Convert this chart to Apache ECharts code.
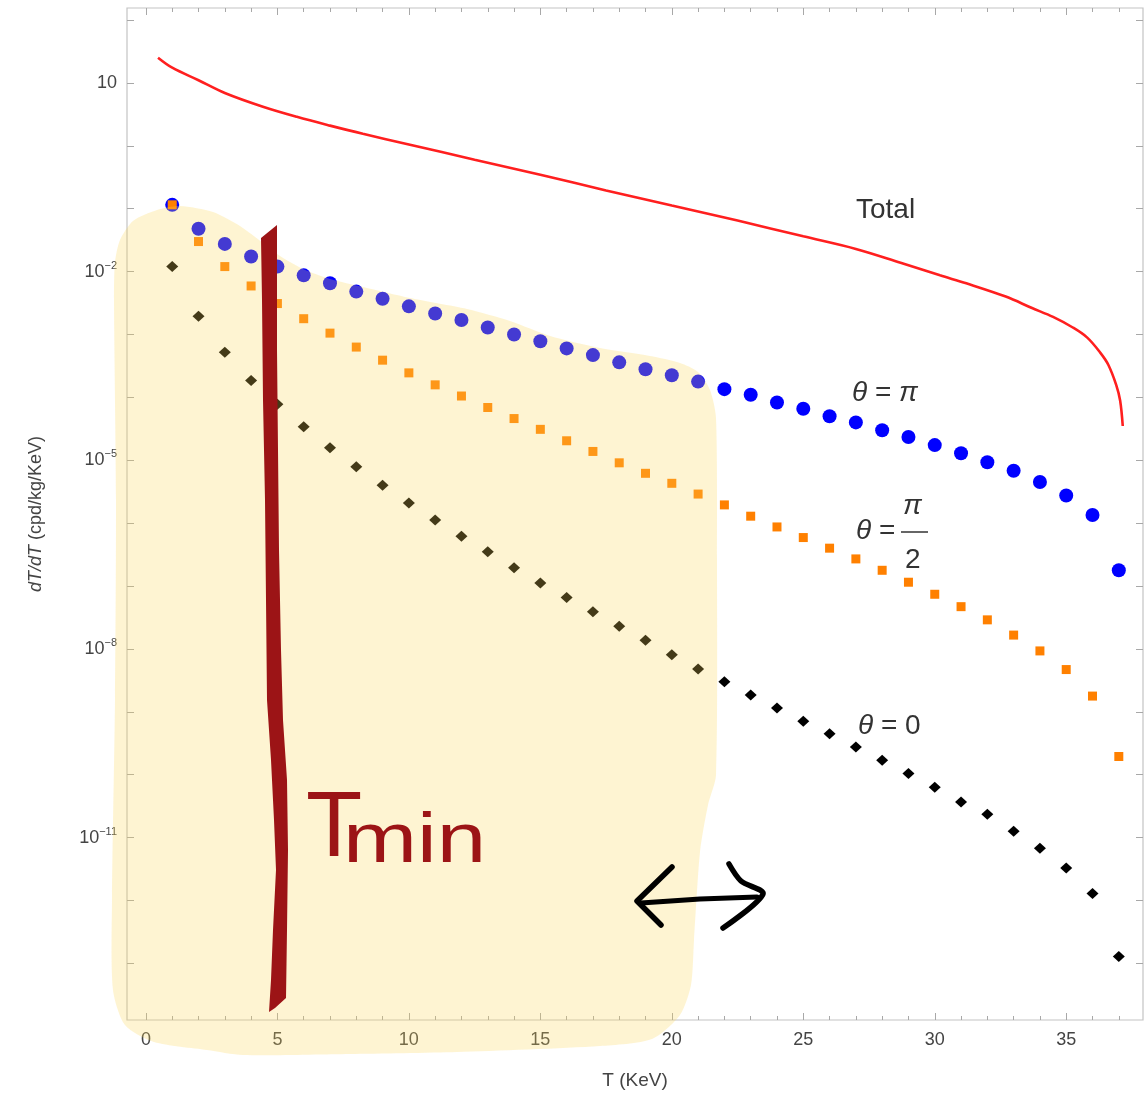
<!DOCTYPE html>
<html>
<head>
<meta charset="utf-8" />
<title>dT/dT vs T</title>
<script src="https://cdn.jsdelivr.net/npm/echarts@6/dist/echarts.min.js"></script>
<style>
  html, body { margin: 0; padding: 0; background: #fff; }
  #main { width: 1148px; height: 1107px; }
</style>
</head>
<body>
<div id="main"></div>
<script>
// recoil energy (KeV) of the point series
var energyKeV = [1, 2, 3, 4, 5, 6, 7, 8, 9, 10, 11, 12, 13, 14, 15, 16, 17, 18, 19, 20,
  21, 22, 23, 24, 25, 26, 27, 28, 29, 30, 31, 32, 33, 34, 35, 36, 37];

// theta = pi (blue circles)
var ratePi = [1.15e-1, 4.8e-2, 2.75e-2, 1.74e-2, 1.2e-2, 8.7e-3, 6.5e-3, 4.8e-3, 3.7e-3, 2.8e-3,
  2.15e-3, 1.7e-3, 1.29e-3, 1.0e-3, 7.8e-4, 6.0e-4, 4.7e-4, 3.6e-4, 2.8e-4, 2.24e-4,
  1.78e-4, 1.35e-4, 1.1e-4, 8.3e-5, 6.6e-5, 5.0e-5, 4.0e-5, 3.0e-5, 2.34e-5, 1.74e-5,
  1.29e-5, 9.3e-6, 6.8e-6, 4.5e-6, 2.75e-6, 1.35e-6, 1.78e-7];

// theta = pi/2 (orange squares)
var ratePiHalf = [1.15e-1, 3.0e-2, 1.2e-2, 5.9e-3, 3.1e-3, 1.78e-3, 1.05e-3, 6.3e-4, 3.9e-4, 2.45e-4,
  1.58e-4, 1.05e-4, 6.9e-5, 4.6e-5, 3.1e-5, 2.04e-5, 1.38e-5, 9.1e-6, 6.2e-6, 4.3e-6,
  2.9e-6, 1.95e-6, 1.29e-6, 8.7e-7, 5.9e-7, 4.0e-7, 2.7e-7, 1.78e-7, 1.15e-7, 7.4e-8,
  4.7e-8, 2.9e-8, 1.66e-8, 9.3e-9, 4.7e-9, 1.78e-9, 1.95e-10];

// theta = 0 (black diamonds)
var rateZero = [1.2e-2, 1.95e-3, 5.2e-4, 1.86e-4, 7.8e-5, 3.4e-5, 1.58e-5, 7.9e-6, 4.0e-6, 2.1e-6,
  1.12e-6, 6.2e-7, 3.5e-7, 1.95e-7, 1.12e-7, 6.6e-8, 3.9e-8, 2.3e-8, 1.38e-8, 8.1e-9,
  4.8e-9, 3.0e-9, 1.86e-9, 1.15e-9, 7.1e-10, 4.5e-10, 2.75e-10, 1.7e-10, 1.05e-10, 6.3e-11,
  3.7e-11, 2.35e-11, 1.26e-11, 6.8e-12, 3.3e-12, 1.29e-12, 1.29e-13];

// total rate (red curve)
var totalT = [0.46, 1, 2, 3, 4.45, 5.74, 7, 8.25, 10, 12.5, 15, 17.5, 20, 22.5, 25, 27, 28.7,
  30.2, 31.2, 32.7, 33.7, 34.5, 35.25, 35.8, 36.3, 36.6, 36.9, 37.05, 37.15];
var totalRate = [25.1, 17.4, 11.0, 6.9, 4.17, 2.88, 2.09, 1.55, 1.05, 0.60, 0.347, 0.195, 0.112,
  0.0646, 0.0363, 0.0229, 0.0138, 8.7e-3, 6.5e-3, 4.0e-3, 2.63e-3, 1.9e-3, 1.29e-3, 8.9e-4,
  5.1e-4, 3.3e-4, 1.58e-4, 8.9e-5, 3.5e-5];

// ticks
var xTickLabels = [0, 5, 10, 15, 20, 25, 30, 35];
var xMinorTicks = [0, 1, 2, 3, 4, 5, 6, 7, 8, 9, 10, 11, 12, 13, 14, 15, 16, 17, 18, 19, 20,
  21, 22, 23, 24, 25, 26, 27, 28, 29, 30, 31, 32, 33, 34, 35, 36, 37];
var yTickLabels = [10, 1e-2, 1e-5, 1e-8, 1e-11];
var yDecadeTicks = [1e2, 1e1, 1, 1e-1, 1e-2, 1e-3, 1e-4, 1e-5, 1e-6, 1e-7, 1e-8, 1e-9,
  1e-10, 1e-11, 1e-12, 1e-13];

var X_MIN = -0.72, X_MAX = 37.92;
var Y_MIN = 1.26e-14, Y_MAX = 155;
var FONT = 'Liberation Sans, Arial, sans-serif';
var TICK_COLOR = '#a8a8a8';

function pairs(xs, ys) {
  return xs.map(function (x, i) { return [x, ys[i]]; });
}

function xAxisDef(pos, ticks, len, withLabels) {
  return {
    type: 'value', min: X_MIN, max: X_MAX, position: pos,
    axisLine: { show: false, onZero: false },
    axisTick: { show: true, inside: true, length: len, customValues: ticks,
      lineStyle: { color: TICK_COLOR } },
    axisLabel: withLabels
      ? { customValues: xTickLabels, margin: 11, fontSize: 18, color: '#444', fontFamily: FONT }
      : { show: false },
    splitLine: { show: false }
  };
}

function yAxisDef(pos, withLabels) {
  return {
    type: 'log', logBase: 10, min: Y_MIN, max: Y_MAX, position: pos,
    axisLine: { show: false, onZero: false },
    axisTick: { show: true, inside: true, length: 7, customValues: yDecadeTicks,
      lineStyle: { color: TICK_COLOR } },
    axisLabel: withLabels ? {
      customValues: yTickLabels, margin: 10, color: '#444', fontFamily: FONT, fontSize: 18,
      formatter: function (v) {
        var e = Math.round(Math.log10(v));
        if (e === 1) return '10';
        return '10{sup|' + (e < 0 ? '\u2212' : '') + Math.abs(e) + '}';
      },
      rich: {
        sup: { fontSize: 11, color: '#444', fontFamily: FONT, padding: [0, 0, 12, 0] }
      }
    } : { show: false },
    splitLine: { show: false }
  };
}

var xMain = xAxisDef('bottom', xTickLabels, 7, true);
xMain.name = 'T (KeV)';
xMain.nameLocation = 'middle';
xMain.nameGap = 51;
xMain.nameTextStyle = { fontSize: 19, color: '#444', fontFamily: FONT };

var yMain = yAxisDef('left', true);
yMain.name = '{it|dT/dT} (cpd/kg/KeV)';
yMain.nameLocation = 'middle';
yMain.nameGap = 82;
yMain.nameTextStyle = {
  fontSize: 18, color: '#444', fontFamily: FONT,
  rich: { it: { fontSize: 18, fontStyle: 'italic', color: '#444', fontFamily: FONT } }
};

// hand-drawn annotations (pixel coordinates of the overlay)
var highlightOutline = [
  [115, 262], [120, 240], [133, 221], [157, 210], [180, 206], [213, 212], [240, 226],
  [263, 243], [280, 256], [303, 269], [330, 279], [363, 287], [410, 298], [467, 309],
  [510, 321], [550, 336], [600, 348], [650, 356], [680, 363], [698, 372], [710, 390],
  [716, 418], [717, 560], [716, 775], [708, 805], [700, 852], [694, 940], [691, 985],
  [680, 1015], [652, 1039], [600, 1046], [457, 1052], [350, 1054], [243, 1055],
  [207, 1050], [154, 1042], [125, 1025], [113, 990], [112, 900], [115, 700],
  [116, 500], [114, 300]
];
var tminStroke = [
  [261, 238], [262, 300], [263, 400], [265, 500], [266, 600], [267, 700], [271, 760],
  [274, 820], [276, 870], [273, 930], [271, 980], [269, 1012], [275, 1008], [286, 998],
  [287, 930], [288, 850], [287, 780], [283, 720], [281, 650], [279, 550], [278, 450],
  [277, 350], [277, 260], [277, 225]
];

var LABEL_SIZE = 28;
function label(x, y, text) {
  return {
    type: 'text', x: x, y: y, z: 12, silent: true,
    style: {
      text: text, align: 'left', verticalAlign: 'middle',
      fill: '#333', fontFamily: FONT, fontSize: LABEL_SIZE,
      rich: { it: { fontStyle: 'italic', fontSize: LABEL_SIZE, fill: '#333', fontFamily: FONT } }
    }
  };
}

var myChart = echarts.init(document.getElementById('main'), null, { renderer: 'canvas' });

var option = {
  animation: false,
  backgroundColor: '#fff',
  grid: { left: 127, right: 5, top: 8, bottom: 87, show: true,
    borderColor: '#c4c4c4', borderWidth: 1.2, backgroundColor: 'transparent' },
  xAxis: [
    xMain,
    xAxisDef('bottom', xMinorTicks, 4, false),
    xAxisDef('top', xTickLabels, 7, false),
    xAxisDef('top', xMinorTicks, 4, false)
  ],
  yAxis: [yMain, yAxisDef('right', false)],
  series: [
    {
      name: 'Total', type: 'line', data: pairs(totalT, totalRate),
      showSymbol: false, smooth: 0.35, sampling: null,
      lineStyle: { color: '#ff1f1f', width: 2.6 }, z: 3
    },
    {
      name: 'theta = pi', type: 'scatter', data: pairs(energyKeV, ratePi),
      symbol: 'circle', symbolSize: 14, itemStyle: { color: '#0000ff', opacity: 1 }, z: 4
    },
    {
      name: 'theta = pi/2', type: 'scatter', data: pairs(energyKeV, ratePiHalf),
      symbol: 'rect', symbolSize: 9, itemStyle: { color: '#ff8000', opacity: 1 }, z: 5
    },
    {
      name: 'theta = 0', type: 'scatter', data: pairs(energyKeV, rateZero),
      symbol: 'diamond', symbolSize: [12, 11], itemStyle: { color: '#000', opacity: 1 }, z: 5
    }
  ],
  graphic: [
    { type: 'polygon', z: 10, silent: true,
      shape: { points: highlightOutline, smooth: 0.25 },
      style: { fill: 'rgba(250, 215, 90, 0.27)' } },
    { type: 'polygon', z: 11, silent: true,
      shape: { points: tminStroke },
      style: { fill: '#9c1416' } },
    { type: 'text', x: 306, y: 877, z: 11, silent: true,
      style: { text: 'T', fontSize: 92, fontFamily: FONT, fill: '#9c1416',
        align: 'left', verticalAlign: 'bottom' } },
    { type: 'text', x: 343, y: 878, z: 11, silent: true, scaleX: 1.27,
      style: { text: 'min', fontSize: 70, fontFamily: FONT, fill: '#9c1416',
        align: 'left', verticalAlign: 'bottom' } },
    { type: 'polyline', z: 11, silent: true,
      shape: { points: [[641, 903], [700, 899], [757, 897]] },
      style: { stroke: '#000', lineWidth: 5, lineCap: 'round', fill: null } },
    { type: 'polyline', z: 11, silent: true,
      shape: { points: [[672, 867], [637, 901], [661, 925]] },
      style: { stroke: '#000', lineWidth: 5.5, lineCap: 'round', lineJoin: 'round', fill: null } },
    { type: 'polyline', z: 11, silent: true,
      shape: { points: [[729, 864], [741, 881], [763, 894], [723, 928]], smooth: 0.3 },
      style: { stroke: '#000', lineWidth: 5.5, lineCap: 'round', lineJoin: 'round', fill: null } },
    label(856, 210, 'Total'),
    label(852, 393, '{it|\u03b8} = {it|\u03c0}'),
    label(856, 531, '{it|\u03b8} ='),
    label(903, 506, '{it|\u03c0}'),
    { type: 'line', z: 12, silent: true,
      shape: { x1: 901, y1: 532, x2: 928, y2: 532 },
      style: { stroke: '#333', lineWidth: 1.5 } },
    label(905, 560, '2'),
    label(858, 726, '{it|\u03b8} = 0')
  ]
};

myChart.setOption(option);
</script>
</body>
</html>
